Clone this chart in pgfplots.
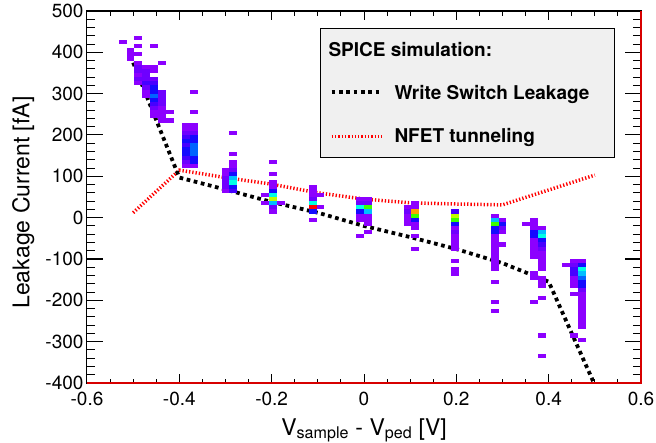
\documentclass[border=0pt]{standalone}
\usepackage{fontspec}
\setmainfont{TeX Gyre Heros}
\usepackage{pgfplots}
\pgfplotsset{compat=1.18}
\usepackage{pgfplotstable}

\pgfdeclareplotmark{cell}{\pgfpathrectangle{\pgfqpoint{-3.957pt}{-2.067pt}}{\pgfqpoint{7.914pt}{4.133pt}}\pgfusepathqfill}

\pgfplotsset{colormap={rootpal}{rgb255(0cm)=(140,0,255) rgb255(1cm)=(110,0,255) rgb255(2cm)=(70,0,255) rgb255(3cm)=(20,10,255) rgb255(4cm)=(0,100,255) rgb255(5cm)=(0,190,255) rgb255(6cm)=(0,255,230) rgb255(7cm)=(0,255,140) rgb255(8cm)=(60,255,0) rgb255(9cm)=(190,255,0) rgb255(10cm)=(255,160,0) rgb255(11cm)=(255,0,0)}}

\definecolor{framered}{RGB}{215,0,0}
\definecolor{legfill}{RGB}{240,240,240}

% 2D histogram cells: bin centre x, bin centre y, colour level
\pgfplotstableread{
x y c
-0.52286 425 0
-0.50571 405 0
-0.50571 395 0
-0.50571 385 0
-0.48857 435 0
-0.48857 415 0
-0.48857 395 0
-0.48857 375 0
-0.48857 365 1
-0.48857 355 1
-0.48857 345 0
-0.48857 335 1
-0.48857 325 0
-0.47143 365 0
-0.47143 355 1
-0.47143 345 1
-0.47143 335 1
-0.47143 325 2
-0.47143 315 1
-0.47143 305 0
-0.47143 295 0
-0.45429 415 0
-0.45429 365 0
-0.45429 355 0
-0.45429 335 1
-0.45429 325 2
-0.45429 315 3
-0.45429 305 3
-0.45429 295 4
-0.45429 285 3
-0.45429 275 2
-0.45429 265 1
-0.45429 255 0
-0.45429 245 0
-0.43714 375 0
-0.43714 305 1
-0.43714 295 1
-0.43714 285 1
-0.43714 275 1
-0.43714 265 0
-0.43714 255 0
-0.43714 245 0
-0.43714 235 0
-0.42000 255 0
-0.42000 235 0
-0.38571 225 0
-0.38571 215 0
-0.38571 205 1
-0.38571 195 2
-0.38571 185 3
-0.38571 175 2
-0.38571 165 3
-0.38571 155 3
-0.38571 145 2
-0.38571 135 1
-0.38571 125 0
-0.36857 305 0
-0.36857 255 0
-0.36857 225 0
-0.36857 215 0
-0.36857 205 1
-0.36857 195 3
-0.36857 185 3
-0.36857 175 4
-0.36857 165 4
-0.36857 155 4
-0.36857 145 3
-0.36857 135 3
-0.36857 125 0
-0.30000 115 0
-0.30000 105 0
-0.30000 95 1
-0.30000 85 1
-0.30000 75 1
-0.30000 65 0
-0.28286 205 0
-0.28286 155 0
-0.28286 135 0
-0.28286 125 0
-0.28286 115 1
-0.28286 105 3
-0.28286 95 5
-0.28286 85 6
-0.28286 75 3
-0.28286 65 2
-0.21429 55 0
-0.21429 35 0
-0.19714 135 0
-0.19714 105 0
-0.19714 85 0
-0.19714 75 0
-0.19714 65 3
-0.19714 55 6
-0.19714 45 9
-0.19714 35 5
-0.19714 25 1
-0.19714 15 0
-0.18000 35 0
-0.11143 75 0
-0.11143 65 0
-0.11143 55 0
-0.11143 45 1
-0.11143 35 6
-0.11143 25 11
-0.11143 15 3
-0.11143 -5 0
-0.09429 55 0
-0.09429 25 0
-0.00857 45 0
-0.00857 35 1
-0.00857 25 6
-0.00857 15 3
-0.00857 5 0
-0.00857 -5 0
-0.00857 -45 0
0.00857 45 0
0.00857 35 1
0.00857 25 8
0.00857 15 5
0.00857 5 0
0.00857 -5 0
0.00857 -15 0
0.00857 -35 0
0.09429 25 0
0.09429 15 1
0.09429 5 0
0.09429 -5 0
0.09429 -15 0
0.11143 35 0
0.11143 25 0
0.11143 15 10
0.11143 5 8
0.11143 -5 3
0.11143 -15 0
0.11143 -25 0
0.11143 -45 0
0.11143 -75 0
0.19714 15 2
0.19714 5 9
0.19714 -5 8
0.19714 -15 3
0.19714 -25 0
0.19714 -35 1
0.19714 -45 0
0.19714 -55 0
0.19714 -65 0
0.19714 -75 0
0.19714 -105 0
0.19714 -125 0
0.19714 -135 0
0.28286 5 0
0.28286 -5 5
0.28286 -15 8
0.28286 -25 3
0.28286 -35 3
0.28286 -45 0
0.28286 -55 0
0.28286 -65 0
0.28286 -75 0
0.28286 -85 0
0.28286 -95 0
0.28286 -105 0
0.28286 -115 0
0.28286 -125 0
0.28286 -155 0
0.28286 -205 0
0.28286 -225 0
0.30000 -5 0
0.30000 -15 3
0.30000 -25 1
0.30000 -35 0
0.30000 -65 0
0.35143 -15 0
0.36857 -5 0
0.36857 -15 0
0.36857 -25 0
0.36857 -35 3
0.36857 -45 3
0.36857 -55 0
0.36857 -65 0
0.36857 -75 0
0.36857 -85 0
0.36857 -95 0
0.36857 -135 0
0.36857 -145 0
0.36857 -205 0
0.38571 -25 0
0.38571 -35 5
0.38571 -45 6
0.38571 -55 3
0.38571 -65 2
0.38571 -75 1
0.38571 -85 0
0.38571 -95 0
0.38571 -105 0
0.38571 -115 0
0.38571 -125 0
0.38571 -145 0
0.38571 -155 0
0.38571 -165 0
0.38571 -195 0
0.38571 -285 0
0.38571 -335 0
0.43714 -115 0
0.45429 -105 0
0.45429 -115 1
0.45429 -125 2
0.45429 -135 2
0.45429 -145 0
0.45429 -155 0
0.45429 -165 0
0.45429 -185 0
0.45429 -285 0
0.47143 -105 0
0.47143 -115 3
0.47143 -125 6
0.47143 -135 5
0.47143 -145 4
0.47143 -155 3
0.47143 -165 3
0.47143 -175 1
0.47143 -185 0
0.47143 -195 0
0.47143 -205 0
0.47143 -215 0
0.47143 -225 0
0.47143 -235 0
0.47143 -245 0
0.47143 -255 0
0.47143 -265 0
0.47143 -295 0
}\cells

\pgfplotsset{rootax/.style={
  scale only axis, width=554pt, height=372pt,
  at={(0,0)}, anchor=south west,
  xmin=-0.6, xmax=0.6, ymin=-400, ymax=500,
  tick align=inside,
  axis line style={line width=1pt, black},
  every tick/.style={black, line width=1pt},
}}

\begin{document}
\begin{tikzpicture}
\begin{axis}[rootax,
  xtick=\empty,
  ytick={-400,-300,-200,-100,0,100,200,300,400,500},
  yticklabels={-400,-300,-200,-100,0,100,200,300,400,500},
  minor y tick num=4,
  major tick length=16pt, minor tick length=8pt,
  yticklabel style={font=\fontsize{19}{22}\selectfont, inner ysep=0pt},
  ylabel={Leakage Current [fA]},
  ylabel style={font=\fontsize{23}{27}\selectfont, at={(axis description cs:-0.115,0.485)}, anchor=center},
  colormap name=rootpal, point meta min=0, point meta max=11,
]
\addplot[scatter, only marks, mark=cell, scatter src=explicit,
  scatter/use mapped color={draw=mapped color, fill=mapped color}]
  table[x=x, y=y, meta=c] {\cells};

\addplot[red, line width=3.5pt, dash pattern=on 1.3pt off 2pt] coordinates {
(-0.5,12) (-0.4,115) (-0.3,97) (-0.2,81) (-0.1,60) (0,45) (0.1,36) (0.2,33) (0.3,31) (0.4,67) (0.5,103)};

\addplot[black, line width=3.8pt, dash pattern=on 3.7pt off 3.6pt] coordinates {
(-0.5,375) (-0.4,97) (-0.3,68) (-0.2,38) (-0.1,12) (0,-20) (0.1,-47) (0.2,-76) (0.3,-110) (0.4,-155) (0.5,-405)};

% legend
\draw[line width=1pt, fill=legfill] (rel axis cs:0.4218,0.6056) rectangle (rel axis cs:0.9513,0.9535);
\node[anchor=base west, inner sep=0pt, font=\fontsize{19}{22}\selectfont\bfseries] at (rel axis cs:0.4356,0.8770) {SPICE simulation:};
\draw[black, line width=3.8pt, dash pattern=on 3.7pt off 3.6pt] (rel axis cs:0.4417,0.7831) -- (rel axis cs:0.5289,0.7831);
\node[anchor=base west, inner sep=0pt, font=\fontsize{19}{22}\selectfont\bfseries] at (rel axis cs:0.5547,0.7634) {Write Switch Leakage};
\draw[red, line width=3.5pt, dash pattern=on 1.3pt off 2pt] (rel axis cs:0.4417,0.6621) -- (rel axis cs:0.5319,0.6621);
\node[anchor=base west, inner sep=0pt, font=\fontsize{19}{22}\selectfont\bfseries] at (rel axis cs:0.5547,0.6460) {NFET tunneling};
\end{axis}

\begin{axis}[rootax,
  ytick=\empty,
  xtick={-0.6,-0.4,-0.2,0,0.2,0.4,0.6},
  xticklabels={-0.6,-0.4,-0.2,0,0.2,0.4,0.6},
  minor x tick num=3,
  major tick length=9pt, minor tick length=4.5pt,
  xticklabel style={font=\fontsize{19}{22}\selectfont, inner ysep=0pt, yshift=-8.5pt},
  xlabel={V\textsubscript{sample} - V\textsubscript{ped} [V]},
  xlabel style={font=\fontsize{23}{27}\selectfont, at={(axis description cs:0.5,-0.14)}, anchor=base},
  clip=false,
]
\draw[framered, line width=1.3pt] (rel axis cs:0,0) -- (rel axis cs:1,0) -- (rel axis cs:1,1);
\end{axis}

\pgfresetboundingbox
\path[use as bounding box] (-87pt,-59pt) rectangle (569pt,383pt);
\end{tikzpicture}
\end{document}
